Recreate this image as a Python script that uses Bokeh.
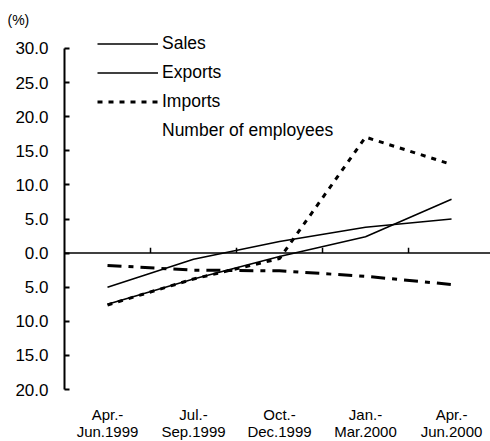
from bokeh.plotting import figure
from bokeh.models import FixedTicker, LinearAxis, Range1d, Legend, LegendItem, Title, Span
from bokeh.core.properties import value
from bokeh.embed import file_html
from bokeh.resources import INLINE

categories = ["Apr.-\nJun.1999", "Jul.-\nSep.1999", "Oct.-\nDec.1999", "Jan.-\nMar.2000", "Apr.-\nJun.2000"]
sales = [-5.0, -0.9, 1.7, 3.8, 5.0]
exports = [-7.5, -3.8, -0.5, 2.4, 7.9]
imports = [-7.6, -3.8, -0.8, 17.0, 13.0]
employees = [-1.8, -2.5, -2.6, -3.4, -4.6]
y_ticks = [-20, -15, -10, -5, 0, 5, 10, 15, 20, 25, 30]
y_tick_labels = ["20.0", "15.0", "10.0", "5.0", "0.0", "5.0", "10.0", "15.0", "20.0", "25.0", "30.0"]

FONT = "Liberation Sans"
xs = list(range(len(categories)))
bounds = [i + 0.5 for i in xs[:-1]]
y_lo, y_hi = y_ticks[0], y_ticks[-1]

p = figure(width=490, height=441, output_backend="svg", toolbar_location=None,
           x_range=Range1d(-0.5, 4.453), y_range=Range1d(y_lo - 7.62, y_hi + 2.93),
           x_axis_type=None, y_axis_type=None,
           min_border_left=64, min_border_right=0, min_border_top=28, min_border_bottom=0)
p.outline_line_color = None
p.grid.visible = False

# title "(%)"
t = Title(text="(%)", align="left", offset=-57, standoff=1,
          text_font=FONT, text_font_size="14px", text_font_style="normal", text_color="black")
p.add_layout(t, "above")

# y axis
yax = LinearAxis(ticker=FixedTicker(ticks=y_ticks), bounds=(y_lo, y_hi),
                 major_label_overrides={v: s for v, s in zip(y_ticks, y_tick_labels)},
                 major_tick_in=5, major_tick_out=0, major_tick_line_width=2,
                 axis_line_width=2, major_label_standoff=16,
                 major_label_text_font=FONT, major_label_text_font_size="17px",
                 major_label_text_color="black")
p.add_layout(yax, "left")

# zero line with category boundary ticks
p.add_layout(Span(location=0, dimension="width", line_color="black", line_width=1.5))
p.segment(x0=bounds, y0=[0] * len(bounds), x1=bounds, y1=[0.8] * len(bounds),
          line_color="black", line_width=1.5)

# category labels (below the axis range)
p.text(x=xs, y=[y_lo] * len(xs), text=categories, text_align="center", text_baseline="top",
       y_offset=16, text_font=value(FONT), text_font_size="15px", text_line_height=1.0,
       text_color="black")

r_sales = p.line(xs, sales, line_color="black", line_width=1.6)
r_exports = p.line(xs, exports, line_color="black", line_width=1.6)
r_imports = p.line(xs, imports, line_color="black", line_width=3, line_dash="5 6")
r_emp = p.line(xs, employees, line_color="black", line_width=3, line_dash="14 7 5 7")
r_dummy = p.line([], [], line_alpha=0)

legend = Legend(items=[
    LegendItem(label="Sales", renderers=[r_sales]),
    LegendItem(label="Exports", renderers=[r_exports]),
    LegendItem(label="Imports", renderers=[r_imports]),
    LegendItem(label="Number of employees", renderers=[r_dummy]),
], location=(33, 296.5), glyph_width=61, glyph_height=29, label_height=29,
    spacing=0, padding=0, margin=0, label_standoff=4,
    border_line_color=None, background_fill_alpha=0,
    label_text_font=FONT, label_text_font_size="17.5px", label_text_color="black")
p.add_layout(legend)

open("out.html", "w").write(file_html(p, INLINE))
